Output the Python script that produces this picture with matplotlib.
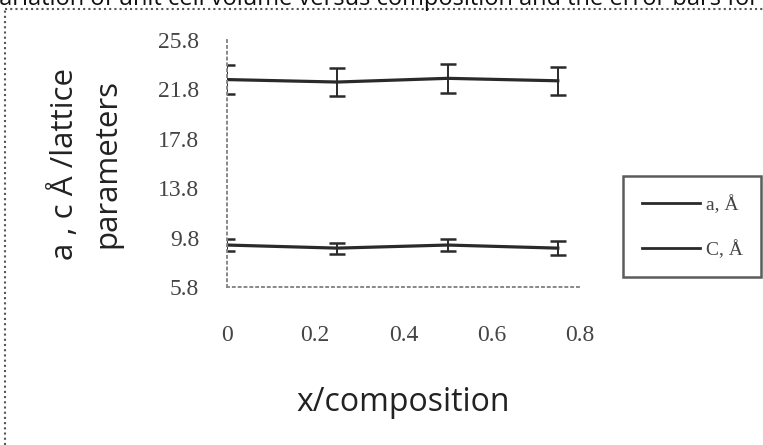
import matplotlib.pyplot as plt
from matplotlib.lines import Line2D

# composition values and lattice parameters
x = [0, 0.25, 0.5, 0.75]
a_vals = [9.2, 8.95, 9.2, 8.95]
a_err = [0.5, 0.45, 0.5, 0.55]
c_vals = [22.6, 22.4, 22.7, 22.5]
c_err = [1.2, 1.1, 1.2, 1.15]
yticks = [5.8, 9.8, 13.8, 17.8, 21.8, 25.8]
xticks = [0, 0.2, 0.4, 0.6, 0.8]
legend_labels = ['a, Å', 'C, Å']

fig = plt.figure(figsize=(7.63, 4.45), dpi=100)
ax = fig.add_axes([0.2975, 0.355, 0.4625, 0.555])

ink = '#2a2a2a'
ax.errorbar(x, c_vals, yerr=c_err, color=ink, lw=2.3, capsize=6, elinewidth=1.4, capthick=1.8)
ax.errorbar(x, a_vals, yerr=a_err, color=ink, lw=2.3, capsize=6, elinewidth=1.4, capthick=1.8)

ax.set_xlim(0, 0.8)
ax.set_ylim(5.8, 25.8)
ax.set_yticks(yticks)
ax.set_yticklabels([str(v) for v in yticks])
ax.set_xticks(xticks)
ax.set_xticklabels(['0', '0.2', '0.4', '0.6', '0.8'])
ax.tick_params(axis='y', length=0, pad=20, labelsize=17, labelcolor='#444444')
ax.tick_params(axis='x', length=0, pad=27, labelsize=17, labelcolor='#444444')
for lab in ax.get_xticklabels() + ax.get_yticklabels():
    lab.set_family('Liberation Serif')

for s in ['top', 'right']:
    ax.spines[s].set_visible(False)
for s in ['left', 'bottom']:
    ax.spines[s].set_linestyle((0, (1, 2)))
    ax.spines[s].set_color('#888888')
    ax.spines[s].set_linewidth(1.4)

ax.set_xlabel('x/composition', fontsize=23, family='Open Sans', color='#222222', labelpad=29)
ax.set_ylabel('a , c Å /lattice\nparameters', fontsize=22.5, family='Open Sans', color='#222222',
              labelpad=26, linespacing=1.5)

handles = [Line2D([], [], color=ink, lw=2), Line2D([], [], color=ink, lw=2)]
leg = fig.legend(handles, legend_labels, loc='center', bbox_to_anchor=(0.907, 0.4905),
                 prop={'family': 'Liberation Serif', 'size': 14}, handlelength=3.0,
                 frameon=True, fancybox=False, borderpad=0.95, labelspacing=1.35, handletextpad=0.3)
leg.get_frame().set_edgecolor('#333333')
leg.get_frame().set_linewidth(1.8)
for t in leg.get_texts():
    t.set_color('#444444')

# dotted outer frame of the chart area
fig.add_artist(Line2D([0.007, 0.007], [0.0, 0.98], transform=fig.transFigure,
                      color='#555555', lw=1.5, ls=(0, (1, 1.5))))
fig.add_artist(Line2D([0.007, 1.0], [0.98, 0.98], transform=fig.transFigure,
                      color='#555555', lw=1.5, ls=(0, (1, 1.5))))

# caption of the page, cut off at the top edge
fig.text(-0.02, 0.988, 'Variation of unit cell volume versus composition and the error bars for',
         fontsize=17, family='Open Sans', color='#111111', va='baseline', ha='left')

fig.savefig('out.png', dpi=100)
